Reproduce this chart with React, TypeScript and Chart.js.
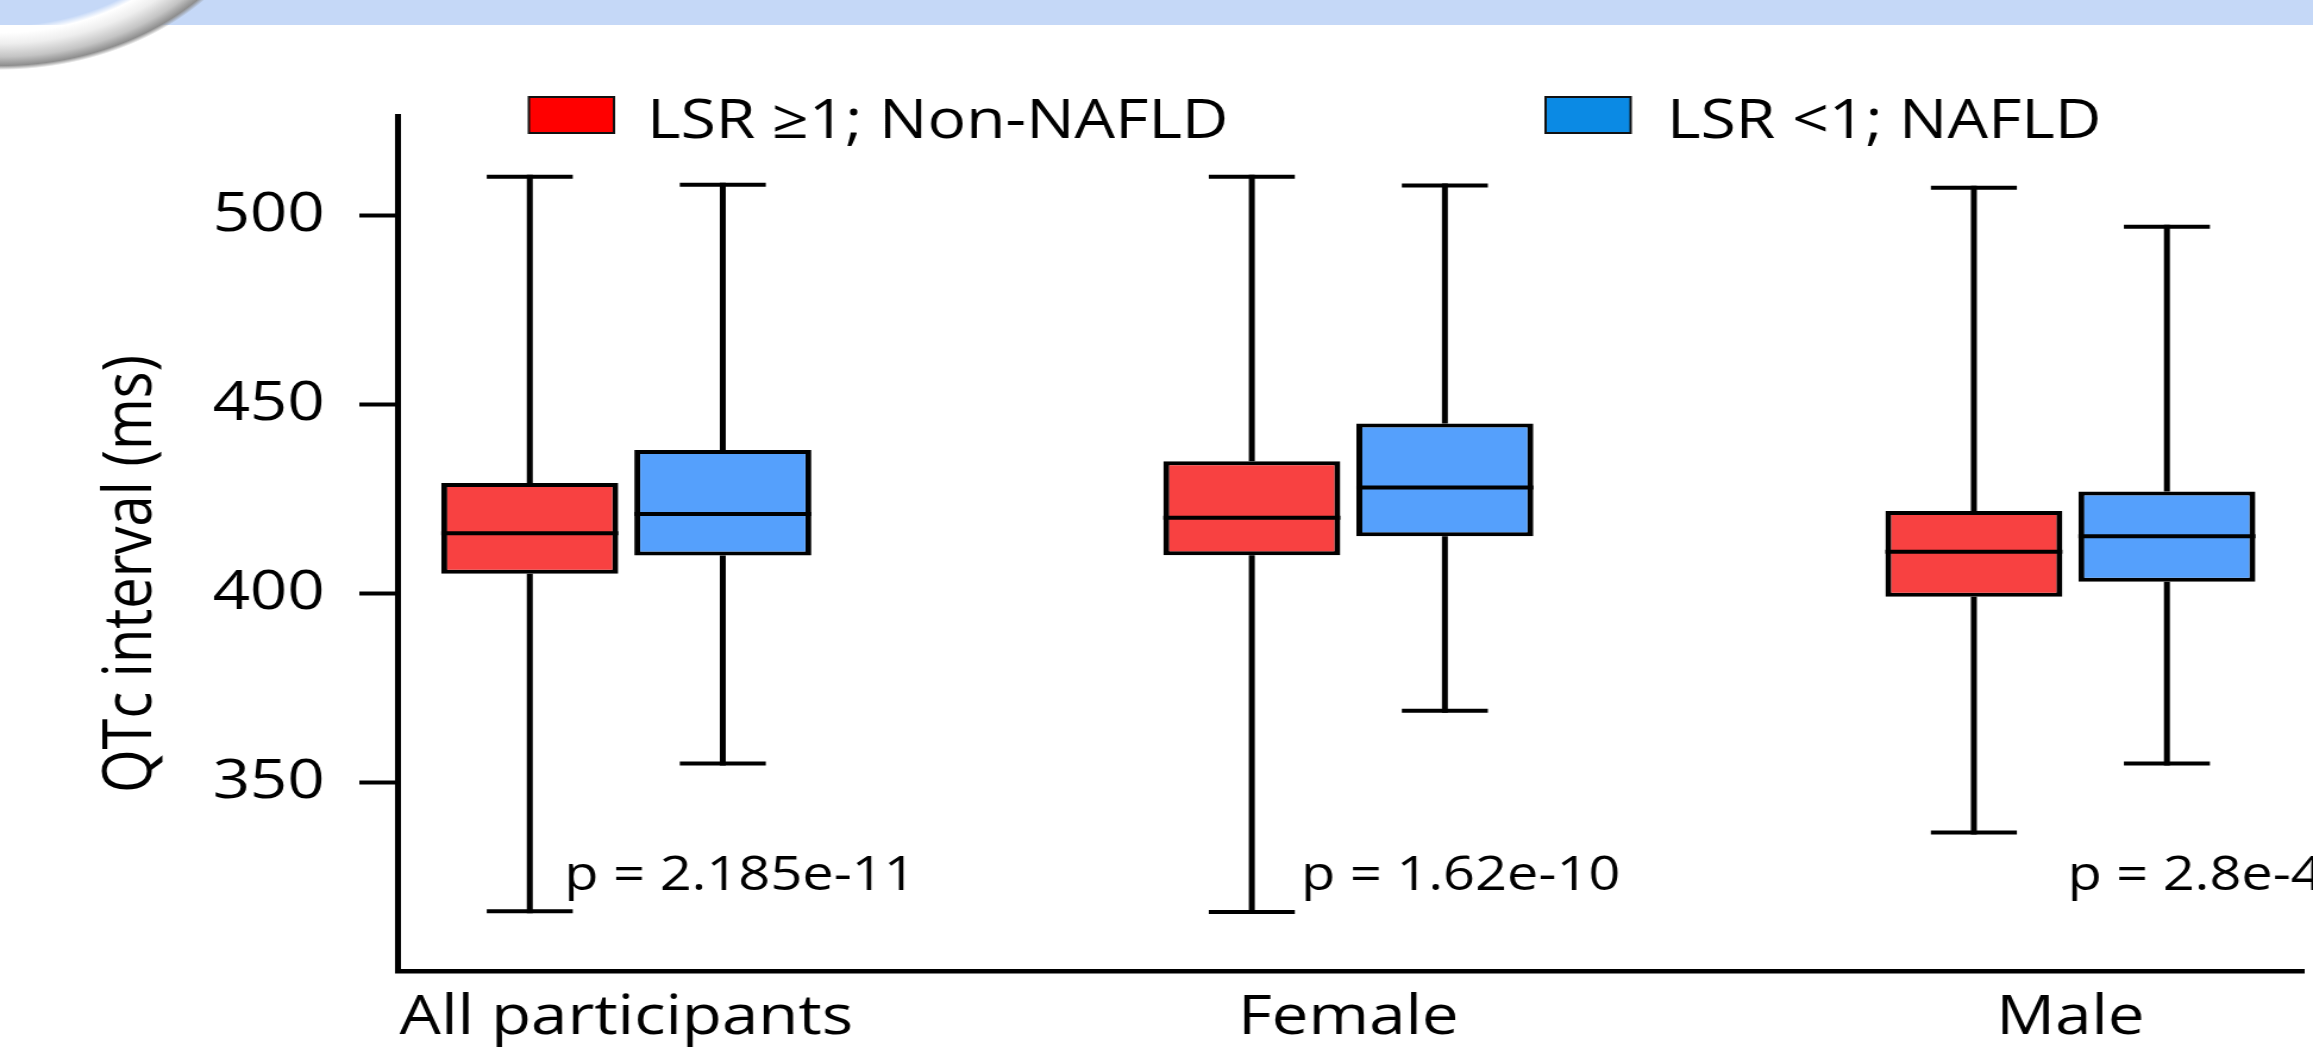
import React, { useEffect, useRef } from 'react';
import { Chart, registerables } from 'chart.js';

Chart.register(...registerables);

// ---------- data ----------
const categories = ['All participants', 'Female', 'Male'];
const seriesNames = ['LSR ≥1; Non-NAFLD', 'LSR <1; NAFLD'];

const nonNafldMin = [316.0, 315.8, 336.8];
const nonNafldQ1 = [405.2, 410.1, 399.1];
const nonNafldMedian = [415.9, 420.0, 411.0];
const nonNafldQ3 = [429.2, 434.9, 421.8];
const nonNafldMax = [510.1, 510.1, 507.2];

const nafldMin = [355.0, 369.0, 355.0];
const nafldQ1 = [410.0, 415.1, 403.1];
const nafldMedian = [421.0, 428.0, 415.1];
const nafldQ3 = [437.9, 444.9, 426.9];
const nafldMax = [508.0, 507.8, 496.9];

const pValueLabels = ['p = 2.185e-11', 'p = 1.62e-10', 'p = 2.8e-4'];
const yTickValues = [350, 400, 450, 500];
const yAxisTitle = 'QTc interval (ms)';

// ---------- styling ----------
const PAGE_W = 2313;
const PAGE_H = 1050;
const CANVAS_W = 1944;
const STRETCH = PAGE_W / CANVAS_W;
const FONT = "'Open Sans', 'DejaVu Sans', sans-serif";
const boxFill = ['#f84141', '#55a0fc'];
const legendFill = ['#ff0000', '#0b8ae4'];

const boxPlugin = {
  id: 'boxWhiskers',
  beforeDatasetsDraw(chart: any) {
    const { ctx } = chart;
    const y = chart.scales.y;
    chart.data.datasets.forEach((ds: any, di: number) => {
      const meta = chart.getDatasetMeta(di);
      meta.data.forEach((bar: any, i: number) => {
        const { x, width } = bar.getProps(['x', 'width'], true);
        const yMin = y.getPixelForValue(ds.stats.min[i]);
        const yMax = y.getPixelForValue(ds.stats.max[i]);
        const yQ1 = y.getPixelForValue(ds.stats.q1[i]);
        const yQ3 = y.getPixelForValue(ds.stats.q3[i]);
        const cap = (width * 0.486) / 2;
        ctx.save();
        ctx.strokeStyle = '#000';
        ctx.lineWidth = 5;
        ctx.beginPath();
        ctx.moveTo(x, yMax - 2);
        ctx.lineTo(x, yQ3);
        ctx.moveTo(x, yQ1);
        ctx.lineTo(x, yMin + 2);
        ctx.stroke();
        ctx.lineWidth = 4;
        ctx.beginPath();
        ctx.moveTo(x - cap, yMax);
        ctx.lineTo(x + cap, yMax);
        ctx.moveTo(x - cap, yMin);
        ctx.lineTo(x + cap, yMin);
        ctx.stroke();
        ctx.restore();
      });
    });
  },
  afterDatasetsDraw(chart: any) {
    const { ctx } = chart;
    const y = chart.scales.y;
    chart.data.datasets.forEach((ds: any, di: number) => {
      const meta = chart.getDatasetMeta(di);
      meta.data.forEach((bar: any, i: number) => {
        const { x, width } = bar.getProps(['x', 'width'], true);
        const yMed = y.getPixelForValue(ds.stats.median[i]);
        ctx.save();
        ctx.strokeStyle = '#000';
        ctx.lineWidth = 4;
        ctx.beginPath();
        ctx.moveTo(x - width / 2, yMed);
        ctx.lineTo(x + width / 2, yMed);
        ctx.stroke();
        ctx.restore();
      });
    });
  },
};

const slideTextPlugin = {
  id: 'slideText',
  afterDraw(chart: any, _args: any, opts: any) {
    const { ctx } = chart;
    const xs = chart.scales.x;
    const ys = chart.scales.y;
    ctx.save();
    // legend
    chart.data.datasets.forEach((ds: any, i: number) => {
      const bx = opts.legendBoxX[i];
      ctx.fillStyle = ds.legendColor;
      ctx.fillRect(bx, opts.legendBoxY, opts.legendBoxW, opts.legendBoxH);
      ctx.strokeStyle = '#111';
      ctx.lineWidth = 2;
      ctx.strokeRect(bx, opts.legendBoxY, opts.legendBoxW, opts.legendBoxH);
      ctx.fillStyle = '#000';
      ctx.font = `${opts.legendFontSize}px ${FONT}`;
      ctx.textAlign = 'left';
      ctx.textBaseline = 'alphabetic';
      ctx.fillText(ds.label, opts.legendTextX[i], opts.legendBaseline);
    });
    // p values
    ctx.font = `${opts.pFontSize}px ${FONT}`;
    ctx.fillStyle = '#000';
    ctx.textAlign = 'left';
    ctx.textBaseline = 'alphabetic';
    pValueLabels.forEach((t, i) => {
      ctx.fillText(t, xs.getPixelForValue(opts.pX[i]), ys.getPixelForValue(opts.pY));
    });
    // y title
    ctx.translate(opts.titleX, opts.titleY);
    ctx.rotate(-Math.PI / 2);
    ctx.font = `${opts.titleFontSize}px ${FONT}`;
    ctx.textAlign = 'center';
    ctx.textBaseline = 'middle';
    ctx.fillText(yAxisTitle, 0, 0);
    ctx.restore();
  },
};

export default function App() {
  const canvasRef = useRef<HTMLCanvasElement | null>(null);

  useEffect(() => {
    const canvas = canvasRef.current;
    if (!canvas) return;
    const stats = [
      { min: nonNafldMin, q1: nonNafldQ1, median: nonNafldMedian, q3: nonNafldQ3, max: nonNafldMax },
      { min: nafldMin, q1: nafldQ1, median: nafldMedian, q3: nafldQ3, max: nafldMax },
    ];
    const chart = new Chart(canvas, {
      type: 'bar',
      data: {
        datasets: stats.map((s, d) => ({
          label: seriesNames[d],
          data: categories.map((_, i) => ({ x: i, y: [s.q1[i], s.q3[i]] })),
          backgroundColor: boxFill[d],
          borderColor: '#000',
          borderWidth: { top: 4, bottom: 4, left: 5, right: 5 },
          borderSkipped: false,
          categoryPercentage: 0.5347,
          barPercentage: 0.9168,
          stats: s,
          legendColor: legendFill[d],
        })) as any,
      },
      options: {
        responsive: false,
        animation: false,
        devicePixelRatio: 1,
        layout: { padding: { top: 116.7, right: 7.9, left: 0, bottom: 0 } },
        plugins: {
          legend: { display: false },
          tooltip: { enabled: false },
          title: { display: false },
          slideText: {
            legendBoxX: [444.5, 1299],
            legendBoxY: 97,
            legendBoxW: 71.5,
            legendBoxH: 36,
            legendTextX: [543.7, 1401],
            legendBaseline: 138.3,
            legendFontSize: 54,
            pX: [-0.0857, 0.9347, 1.996],
            pY: 321.6,
            pFontSize: 47,
            titleX: 111,
            titleY: 574,
            titleFontSize: 56,
          },
        } as any,
        scales: {
          x: {
            type: 'linear',
            min: -0.317,
            max: 2.323,
            offset: false,
            afterBuildTicks: (s: any) => {
              s.ticks = categories.map((_, i) => ({ value: i }));
            },
            afterFit: (s: any) => {
              s.height = PAGE_H - 971.7;
            },
            ticks: {
              callback: (v: any) => categories[Math.round(Number(v))] ?? '',
              font: { family: FONT, size: 55 },
              color: '#000',
              padding: 14,
              maxRotation: 0,
              autoSkip: false,
            },
            grid: { display: false, drawTicks: false, offset: false },
            border: { display: true, color: '#000', width: 4.5 },
          },
          y: {
            type: 'linear',
            min: 300,
            max: 526,
            afterBuildTicks: (s: any) => {
              s.ticks = yTickValues.map((v) => ({ value: v }));
            },
            afterFit: (s: any) => {
              s.width = 334;
            },
            ticks: { font: { family: FONT, size: 55 }, color: '#000', padding: 29 },
            grid: { drawOnChartArea: false, drawTicks: true, tickLength: 32, tickWidth: 4, tickColor: '#000' },
            border: { display: true, color: '#000', width: 5 },
          },
        } as any,
      },
      plugins: [boxPlugin, slideTextPlugin],
    });
    return () => chart.destroy();
  }, []);

  return (
    <div
      style={{
        position: 'fixed',
        top: 0,
        left: 0,
        width: PAGE_W,
        height: PAGE_H,
        overflow: 'hidden',
        background: '#ffffff',
      }}
    >
      <div style={{ position: 'absolute', top: 0, left: 0, width: PAGE_W, height: 25, background: '#c5d8f7' }} />
      <div
        style={{
          position: 'absolute',
          left: -280,
          top: -370,
          width: 560,
          height: 440,
          borderRadius: '50%',
          background:
            'radial-gradient(closest-side, rgba(255,255,255,0) 80%, #ffffff 83%, #eeeeee 88%, #c4c4c4 94%, #8e8e8e 98%, rgba(255,255,255,0) 100%)',
        }}
      />
      <div style={{ position: 'absolute', top: 0, left: 0, transform: `scaleX(${STRETCH})`, transformOrigin: '0 0' }}>
        <canvas
          ref={canvasRef}
          width={CANVAS_W}
          height={PAGE_H}
          style={{ width: CANVAS_W, height: PAGE_H, display: 'block' }}
        />
      </div>
    </div>
  );
}
